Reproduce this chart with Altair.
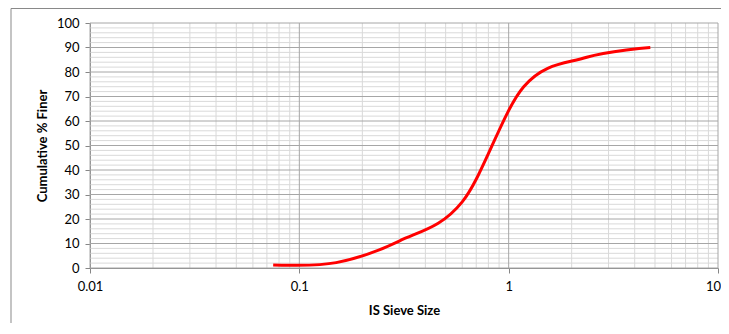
import altair as alt
import pandas as pd

# Sieve analysis data
sieve_size = [0.075, 0.15, 0.3, 0.6, 1.18, 2.36, 4.75]
pct_finer = [1.2, 2.2, 11, 27, 74, 86, 90]

# Grid / tick values
y_major = list(range(0, 101, 10))
y_minor = [v for v in range(0, 101, 2) if v % 10 != 0]
x_major = [0.01, 0.1, 1, 10]
x_minor = [m * d for d in (0.01, 0.1, 1) for m in range(2, 10)]

FONT = "Lato"
W, H = 628, 245

xscale = alt.Scale(type="log", domain=[0.01, 10], nice=False)
yscale = alt.Scale(domain=[0, 100], nice=False)

xaxis = alt.Axis(
    values=x_major,
    format="~g",
    title="IS Sieve Size",
    grid=False,
    domainColor="#868686",
    tickColor="#868686",
    tickSize=5,
    labelPadding=7,
    labelFlush=False,
    labelOffset=alt.expr("datum.value >= 10 ? -5 : 0"),
    labelFont=FONT,
    labelFontSize=13,
    labelColor="#000000",
    titleFont=FONT,
    titleFontSize=13,
    titleFontWeight="bold",
    titleColor="#000000",
    titleX=W / 2,
    titleY=42,
    titleBaseline="middle",
)
yaxis = alt.Axis(
    values=y_major,
    title="Cumulative % Finer",
    grid=False,
    domainColor="#868686",
    tickColor="#868686",
    tickSize=5,
    labelPadding=6,
    labelFlush=False,
    labelFont=FONT,
    labelFontSize=13,
    labelColor="#000000",
    titleFont=FONT,
    titleFontSize=13,
    titleFontWeight="bold",
    titleColor="#000000",
    titleX=-48,
    titleY=H / 2,
    titleAngle=-90,
    titleBaseline="middle",
)

df = pd.DataFrame({"size": sieve_size, "finer": pct_finer})

border = alt.Chart(pd.DataFrame({"a": [0]})).mark_rect(
    fill=None, stroke="#898989", strokeWidth=1
).encode(x=alt.value(-79), x2=alt.value(700), y=alt.value(-14.5), y2=alt.value(400))

gx_minor = alt.Chart(pd.DataFrame({"size": x_minor})).mark_rule(
    color="#d9d9d9", strokeWidth=1
).encode(x=alt.X("size:Q", scale=xscale, axis=xaxis))
gy_minor = alt.Chart(pd.DataFrame({"finer": y_minor})).mark_rule(
    color="#d9d9d9", strokeWidth=1
).encode(y=alt.Y("finer:Q", scale=yscale, axis=yaxis))
gx_major = alt.Chart(pd.DataFrame({"size": x_major})).mark_rule(
    color="#a6a6a6", strokeWidth=1
).encode(x=alt.X("size:Q", scale=xscale, axis=xaxis))
gy_major = alt.Chart(pd.DataFrame({"finer": y_major})).mark_rule(
    color="#a6a6a6", strokeWidth=1
).encode(y=alt.Y("finer:Q", scale=yscale, axis=yaxis))

line = alt.Chart(df).mark_line(
    color="#ff0000", strokeWidth=3, interpolate="cardinal"
).encode(
    x=alt.X("size:Q", scale=xscale, axis=xaxis),
    y=alt.Y("finer:Q", scale=yscale, axis=yaxis),
)

chart = alt.layer(border, gx_minor, gy_minor, gx_major, gy_major, line).properties(
    width=W,
    height=H,
    autosize=alt.AutoSizeParams(type="none"),
    padding={"left": 82, "top": 15, "right": 3, "bottom": 55},
).configure_view(stroke=None)

chart.save("out.html", embed_options={"renderer": "svg", "actions": False})
